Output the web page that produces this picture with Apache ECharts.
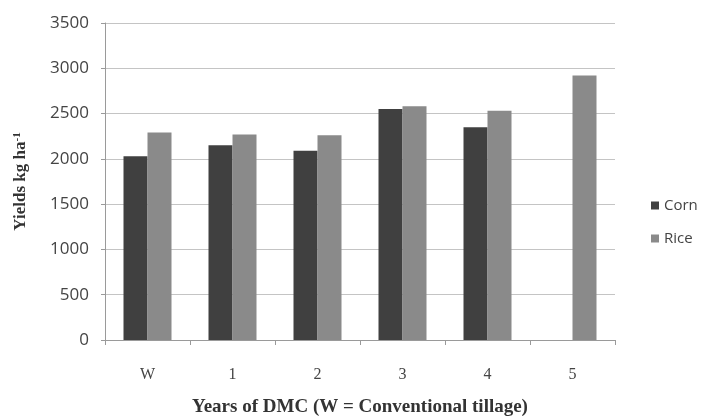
<!DOCTYPE html>
<html>
<head>
<meta charset="utf-8">
<script src="https://cdn.jsdelivr.net/npm/echarts@6/dist/echarts.min.js"></script>
<style>html,body{margin:0;padding:0;background:#fff}#c{width:701px;height:418px}</style>
</head>
<body>
<div id="c"></div>
<script>
const categories = ['W', '1', '2', '3', '4', '5'];
const corn = [2030, 2150, 2090, 2550, 2350, null];
const rice = [2290, 2270, 2260, 2580, 2530, 2920];
const yTicks = [0, 500, 1000, 1500, 2000, 2500, 3000, 3500];

const chart = echarts.init(document.getElementById('c'), null, {renderer: 'canvas'});
chart.setOption({
  animation: false,
  backgroundColor: '#ffffff',
  grid: {left: 105, right: 86, top: 23, bottom: 78, containLabel: false, outerBoundsMode: 'none'},
  legend: {
    orient: 'vertical',
    left: 646, top: 193,
    itemWidth: 8, itemHeight: 8, itemGap: 18,
    icon: 'rect',
    textStyle: {fontFamily: 'Open Sans', fontSize: 15, color: '#444'},
    data: ['Corn', 'Rice']
  },
  xAxis: {
    type: 'category',
    data: categories,
    boundaryGap: true,
    axisLine: {lineStyle: {color: '#9a9a9a', width: 1}},
    axisTick: {show: true, length: 5, lineStyle: {color: '#9a9a9a'}},
    axisLabel: {fontFamily: 'Liberation Serif', fontSize: 16, color: '#444', margin: 27},
    name: 'Years of DMC (W = Conventional tillage)',
    nameLocation: 'middle',
    nameGap: 58,
    nameTextStyle: {fontFamily: 'Liberation Serif', fontWeight: 'bold', fontSize: 19, color: '#333'}
  },
  yAxis: {
    type: 'value',
    min: yTicks[0], max: yTicks[yTicks.length - 1], interval: 500,
    axisLine: {show: true, lineStyle: {color: '#9a9a9a'}},
    axisTick: {show: true, length: 4, lineStyle: {color: '#9a9a9a'}},
    splitLine: {lineStyle: {color: '#c4c4c4', width: 1}},
    axisLabel: {fontFamily: 'Open Sans', fontSize: 17, color: '#444', margin: 16, formatter: v => String(v)},
    name: '{b|Yields kg ha}{s|-1}',
    nameLocation: 'middle',
    nameGap: 75,
    nameRotate: 90,
    nameTextStyle: {
      rich: {
        b: {fontFamily: 'Liberation Serif', fontWeight: 'bold', fontSize: 17, color: '#333'},
        s: {fontFamily: 'Liberation Serif', fontWeight: 'bold', fontSize: 11, color: '#333', verticalAlign: 'top', padding: [0, 0, 7, 0]}
      }
    }
  },
  series: [
    {name: 'Corn', type: 'bar', data: corn, barWidth: 24, barGap: '0%', itemStyle: {color: '#404040'}},
    {name: 'Rice', type: 'bar', data: rice, barWidth: 24, barGap: '0%', itemStyle: {color: '#8a8a8a'}}
  ]
});
</script>
</body>
</html>
